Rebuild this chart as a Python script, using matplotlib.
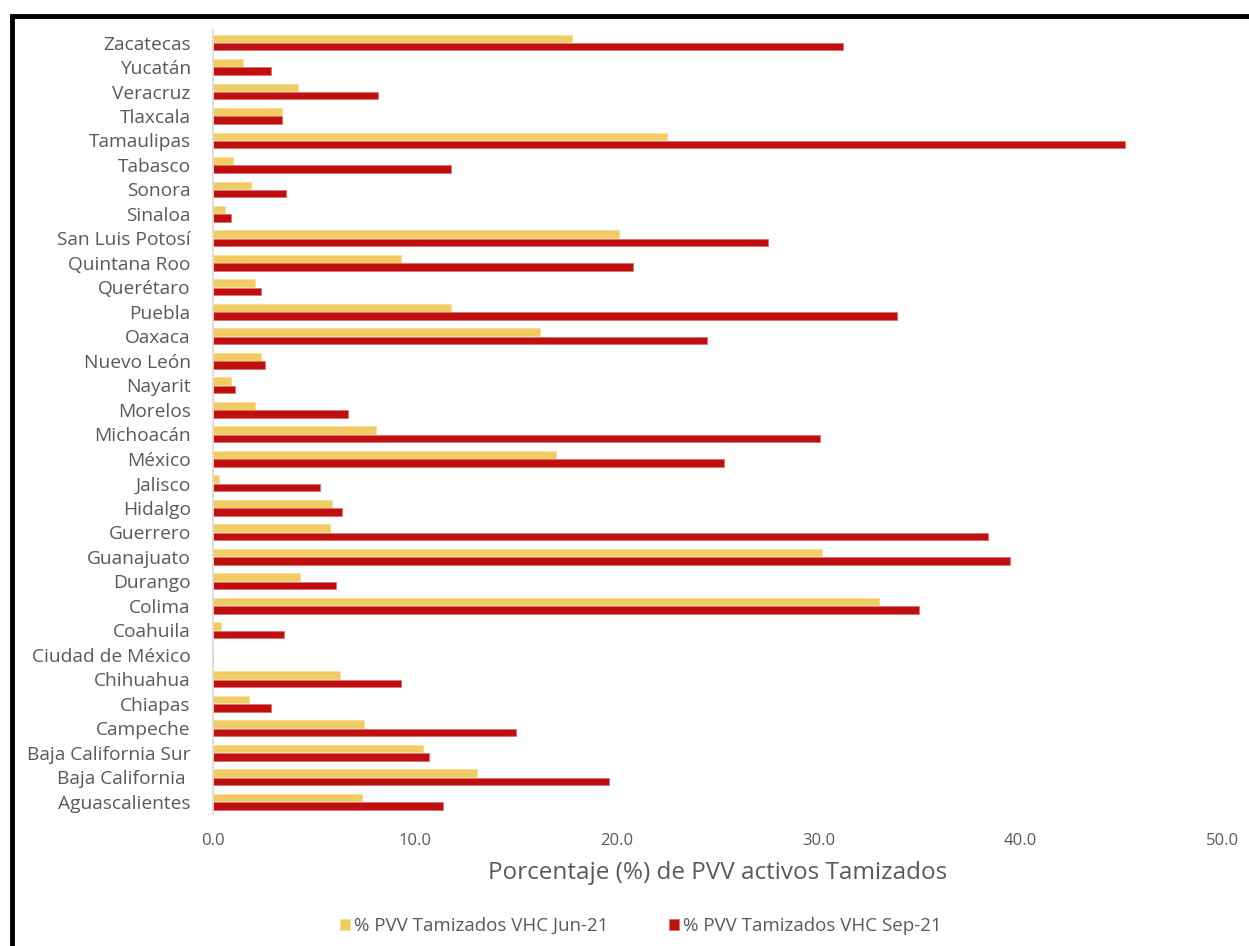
import matplotlib.pyplot as plt
import matplotlib.patches as patches
import numpy as np

estados = ['Aguascalientes', 'Baja California ', 'Baja California Sur', 'Campeche',
           'Chiapas', 'Chihuahua', 'Ciudad de México', 'Coahuila', 'Colima',
           'Durango', 'Guanajuato', 'Guerrero', 'Hidalgo', 'Jalisco', 'México',
           'Michoacán', 'Morelos', 'Nayarit', 'Nuevo León', 'Oaxaca', 'Puebla',
           'Querétaro', 'Quintana Roo', 'San Luis Potosí', 'Sinaloa', 'Sonora',
           'Tabasco', 'Tamaulipas', 'Tlaxcala', 'Veracruz', 'Yucatán', 'Zacatecas']

jun_21 = [7.4, 13.1, 10.4, 7.5, 1.8, 6.3, 0.0, 0.4, 33.0, 4.3, 30.2, 5.8, 5.9, 0.3,
          17.0, 8.1, 2.1, 0.9, 2.4, 16.2, 11.8, 2.1, 9.3, 20.1, 0.6, 1.9, 1.0, 22.5,
          3.4, 4.2, 1.5, 17.8]
sep_21 = [11.4, 19.6, 10.7, 15.0, 2.9, 9.3, 0.0, 3.5, 35.0, 6.1, 39.5, 38.4, 6.4, 5.3,
          25.3, 30.1, 6.7, 1.1, 2.6, 24.5, 33.9, 2.4, 20.8, 27.5, 0.9, 3.6, 11.8, 45.2,
          3.4, 8.2, 2.9, 31.2]

x_ticks = [0, 10, 20, 30, 40, 50]

gris = '#595959'
amarillo = '#F0CC62'
rojo = '#C00F0F'

plt.rcParams['font.family'] = ['Open Sans', 'DejaVu Sans']

fig = plt.figure(figsize=(12.49, 9.46), dpi=100)
ax = fig.add_axes([0.1705, 0.1395, 0.8079, 0.8285])

y = np.arange(len(estados))
alto = 0.31
ax.barh(y + 0.17, jun_21, height=alto, color=amarillo, edgecolor='#F6DD95',
        linewidth=0.6, label='% PVV Tamizados VHC Jun-21')
ax.barh(y - 0.17, sep_21, height=alto, color=rojo, edgecolor='#E07070',
        linewidth=0.6, label='% PVV Tamizados VHC Sep-21')

ax.set_ylim(-0.5, len(estados) - 0.5)
ax.set_xlim(0, 50)
ax.set_yticks(y)
ax.set_yticklabels(estados, fontsize=13.8, color=gris)
ax.set_xticks(x_ticks)
ax.set_xticklabels([f'{v:.1f}' for v in x_ticks], fontsize=12, color=gris)
ax.tick_params(axis='both', length=0)
ax.tick_params(axis='y', pad=16)
ax.tick_params(axis='x', pad=14)

for lado in ['top', 'right', 'bottom']:
    ax.spines[lado].set_visible(False)
ax.spines['left'].set_color('#D9D9D9')
ax.spines['left'].set_linewidth(1.2)

ax.set_xlabel('Porcentaje (%) de PVV activos Tamizados', fontsize=17.5,
              color=gris, labelpad=8)

leg = fig.legend(loc='center', bbox_to_anchor=(0.513, 0.021), ncol=2, frameon=False,
                 fontsize=13.5, handlelength=0.55, handleheight=0.55, handletextpad=0.2,
                 columnspacing=3.2)
for t in leg.get_texts():
    t.set_color(gris)

# marco negro alrededor de la figura
marco = patches.Rectangle((12 / 1249, -0.05), 1.1, 1 - 16 / 946 + 0.05,
                          transform=fig.transFigure, fill=False,
                          edgecolor='black', linewidth=3.5, clip_on=False)
fig.patches.append(marco)

fig.savefig('out.png', dpi=100)
